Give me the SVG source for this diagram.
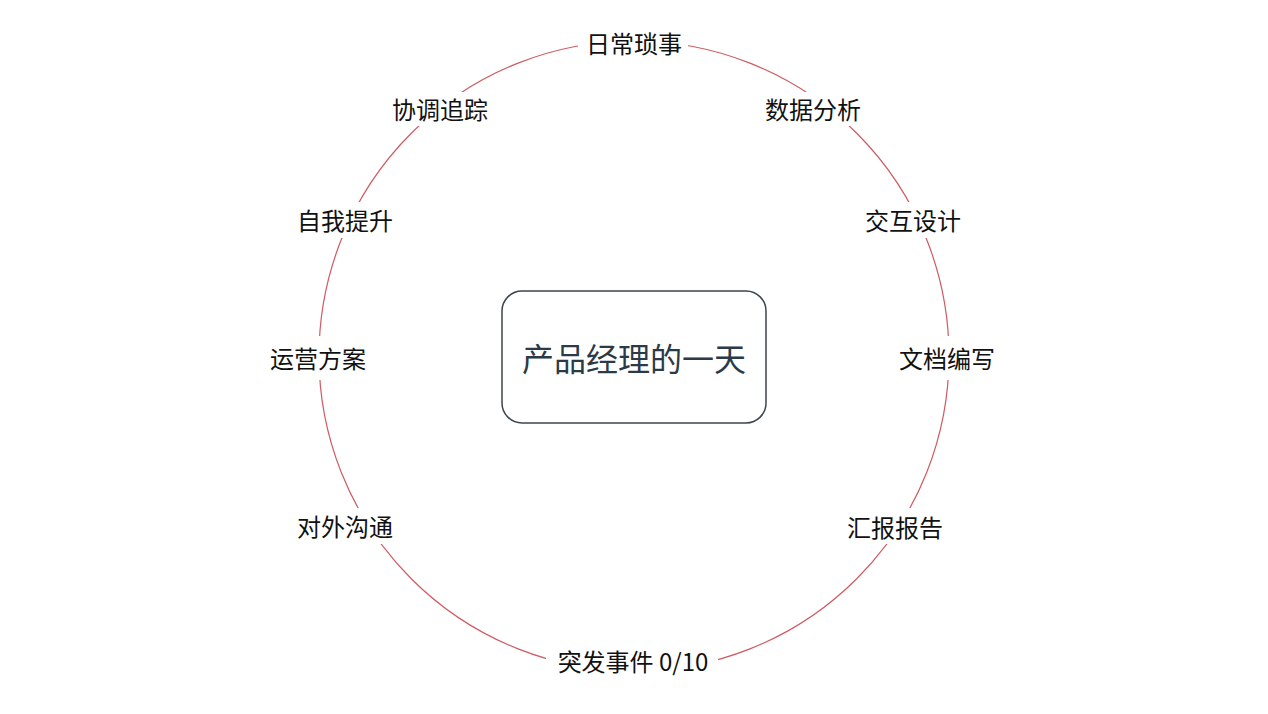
<svg xmlns="http://www.w3.org/2000/svg" width="1268" height="714" viewBox="0 0 1268 714">
<style>
.lbl{font-family:"Noto Sans CJK SC","Noto Sans",sans-serif;font-size:24px;fill:#111;text-anchor:middle;dominant-baseline:central}
.mask{fill:#fff}
.ring{fill:none;stroke:#cf5a62;stroke-width:1.2}
.center{fill:#fff;stroke:#3a4650;stroke-width:1.5}
.ctext{font-family:"Noto Sans CJK SC","Noto Sans",sans-serif;font-size:32px;fill:#2c3a47;text-anchor:middle;dominant-baseline:central}
</style>
<rect width="1268" height="714" fill="#fff"/>
<g id="connectors">
<circle class="ring" cx="634" cy="356" r="315"/>
</g>
<g id="n-center"><rect class="center" x="502" y="291" width="264" height="132" rx="20"/><text class="ctext" x="634" y="357">产品经理的一天</text></g>
<g id="n1"><rect class="mask" x="578" y="26" width="110" height="34"/><text class="lbl" x="634" y="42">日常琐事</text></g>
<g id="n2"><rect class="mask" x="758" y="92" width="110" height="34"/><text class="lbl" x="813" y="108">数据分析</text></g>
<g id="n3"><rect class="mask" x="860" y="202" width="108" height="36"/><text class="lbl" x="913" y="219">交互设计</text></g>
<g id="n4"><rect class="mask" x="894" y="336" width="108" height="44"/><text class="lbl" x="947" y="357">文档编写</text></g>
<g id="n5"><rect class="mask" x="840" y="508" width="110" height="36"/><text class="lbl" x="895" y="526">汇报报告</text></g>
<g id="n6"><rect class="mask" x="546" y="644" width="172" height="36"/><text class="lbl" x="633" y="660">突发事件 0/10</text></g>
<g id="n7"><rect class="mask" x="290" y="508" width="110" height="36"/><text class="lbl" x="345" y="525">对外沟通</text></g>
<g id="n8"><rect class="mask" x="264" y="336" width="108" height="44"/><text class="lbl" x="318" y="357">运营方案</text></g>
<g id="n9"><rect class="mask" x="292" y="202" width="108" height="36"/><text class="lbl" x="345" y="219">自我提升</text></g>
<g id="n10"><rect class="mask" x="384" y="92" width="110" height="34"/><text class="lbl" x="440" y="108">协调追踪</text></g>
</svg>
